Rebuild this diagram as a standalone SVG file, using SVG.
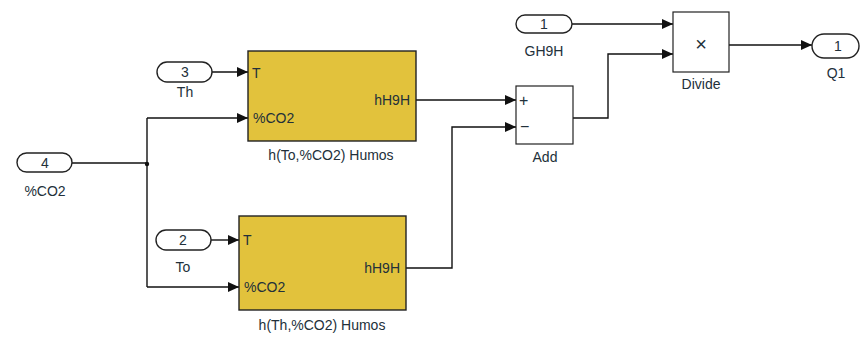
<svg xmlns="http://www.w3.org/2000/svg" width="864" height="340" viewBox="0 0 864 340">
<style>
text{font-family:"Liberation Sans",Arial,sans-serif;font-size:14px;fill:#22303a}
.port{fill:#fff;stroke:#222;stroke-width:1.4}
.blk{fill:#E2C23C;stroke:#222;stroke-width:1.4}
.wblk{fill:#fff;stroke:#222;stroke-width:1.2}
.w{fill:none;stroke:#111;stroke-width:1.4}
.c{text-anchor:middle}
.r{text-anchor:end}
</style>
<defs>
<marker id="a" markerWidth="11" markerHeight="10" refX="11" refY="5" orient="auto" markerUnits="userSpaceOnUse">
<path d="M0,0 L11,5 L0,10 Z" fill="#111"/>
</marker>
</defs>
<rect width="864" height="340" fill="#fff"/>
<g id="connectors">
<path class="w" d="M72,163 H147"/>
<path class="w" d="M147,118 V287"/>
<circle cx="147" cy="164" r="2.2" fill="#111"/>
<path class="w" d="M147,118 H248" marker-end="url(#a)"/>
<path class="w" d="M147,287 H239" marker-end="url(#a)"/>
<path class="w" d="M212,72 H248" marker-end="url(#a)"/>
<path class="w" d="M211,240 H239" marker-end="url(#a)"/>
<path class="w" d="M416,100 H516" marker-end="url(#a)"/>
<path class="w" d="M406,268 H452 V127 H516" marker-end="url(#a)"/>
<path class="w" d="M573,118 H608 V54 H673" marker-end="url(#a)"/>
<path class="w" d="M572,24 H673" marker-end="url(#a)"/>
<path class="w" d="M729,45 H812" marker-end="url(#a)"/>
</g>
<g id="in4">
<rect class="port" x="17" y="153" width="55" height="19" rx="9.5"/>
<text class="c" x="45" y="168">4</text>
<text class="c" x="45" y="196">%CO2</text>
</g>
<g id="in3">
<rect class="port" x="157" y="62" width="55" height="20" rx="10"/>
<text class="c" x="185" y="77">3</text>
<text class="c" x="185" y="97">Th</text>
</g>
<g id="in2">
<rect class="port" x="156" y="230" width="55" height="20" rx="10"/>
<text class="c" x="183" y="245">2</text>
<text class="c" x="183" y="272">To</text>
</g>
<g id="hTop">
<rect class="blk" x="248" y="51" width="168" height="90"/>
<text x="252" y="78">T</text>
<text x="253" y="123">%CO2</text>
<text class="r" x="410" y="105">hH9H</text>
<text class="c" x="331" y="160">h(To,%CO2) Humos</text>
</g>
<g id="hBot">
<rect class="blk" x="239" y="216" width="167" height="94"/>
<text x="243" y="245">T</text>
<text x="244" y="292">%CO2</text>
<text class="r" x="400" y="273">hH9H</text>
<text class="c" x="322" y="330">h(Th,%CO2) Humos</text>
</g>
<g id="add">
<rect class="wblk" x="516" y="86" width="57" height="58"/>
<text x="519" y="106" style="font-size:16px">+</text>
<text x="520" y="132" style="font-size:16px">−</text>
<text class="c" x="545" y="162">Add</text>
</g>
<g id="in1">
<rect class="port" x="516" y="15" width="56" height="18" rx="9"/>
<text class="c" x="544" y="29">1</text>
<text class="c" x="544" y="56">GH9H</text>
</g>
<g id="divide">
<rect class="wblk" x="673" y="12" width="56" height="60"/>
<text class="c" x="701" y="51" style="font-size:20px">×</text>
<text class="c" x="701" y="89">Divide</text>
</g>
<g id="out1">
<rect class="port" x="812" y="34" width="47" height="24" rx="12"/>
<text class="c" x="838" y="51">1</text>
<text class="c" x="836" y="78">Q1</text>
</g>
</svg>
